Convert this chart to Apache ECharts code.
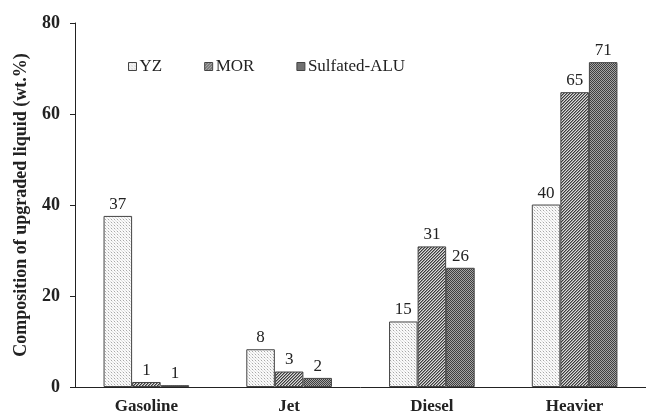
<!DOCTYPE html>
<html><head><meta charset="utf-8">
<script src="https://cdn.jsdelivr.net/npm/echarts@6/dist/echarts.min.js"></script>
<style>html,body{margin:0;padding:0;background:#fff}#c{width:646px;height:418px}</style>
</head><body><div id="c"></div>
<script>
const categories = ['Gasoline', 'Jet', 'Diesel', 'Heavier'];
const seriesNames = ['YZ', 'MOR', 'Sulfated-ALU'];
const yzValues = [37.6, 8.3, 14.4, 40.1];
const morValues = [1.1, 3.4, 30.9, 64.8];
const aluValues = [0.4, 2.0, 26.2, 71.4];
const yzLabels = ['37', '8', '15', '40'];
const morLabels = ['1', '3', '31', '65'];
const aluLabels = ['1', '2', '26', '71'];
const yTicks = [0, 20, 40, 60, 80];

function pattern(kind) {
  const c = document.createElement('canvas');
  const ctx = c.getContext('2d');
  if (kind === 'dots') {
    c.width = 3; c.height = 3;
    ctx.fillStyle = '#fafafa'; ctx.fillRect(0, 0, 3, 3);
    ctx.fillStyle = '#a8a8a8';
    ctx.fillRect(0, 0, 1, 1);
    ctx.fillStyle = '#dedede';
    ctx.fillRect(1, 1, 1, 1); ctx.fillRect(2, 2, 1, 1);
  } else if (kind === 'diag') {
    c.width = 3; c.height = 3;
    ctx.fillStyle = '#dcdcdc'; ctx.fillRect(0, 0, 3, 3);
    ctx.fillStyle = '#3c3c3c';
    for (let i = 0; i < 3; i++) { ctx.fillRect(2 - i, i, 1, 1); }
    ctx.fillStyle = '#8c8c8c';
    for (let i = 0; i < 3; i++) { ctx.fillRect((3 - i) % 3, i, 1, 1); }
  } else {
    c.width = 2; c.height = 2;
    ctx.fillStyle = '#a4a4a4'; ctx.fillRect(0, 0, 2, 2);
    ctx.fillStyle = '#3e3e3e';
    ctx.fillRect(0, 0, 1, 1); ctx.fillRect(1, 1, 1, 1);
  }
  return { image: c, repeat: 'repeat' };
}

const fills = [pattern('dots'), pattern('diag'), pattern('check')];
const valueSets = [yzValues, morValues, aluValues];
const labelSets = [yzLabels, morLabels, aluLabels];

const chart = echarts.init(document.getElementById('c'), null, { renderer: 'canvas' });
const font = 'Liberation Serif';
chart.setOption({
  animation: false,
  backgroundColor: '#fff',
  textStyle: { fontFamily: font },
  grid: { left: 75, top: 23, bottom: 31, right: -7, containLabel: false },
  legend: {
    left: 123, top: 53,
    itemWidth: 8, itemHeight: 8, itemGap: 42,
    textStyle: { fontFamily: font, fontSize: 17, color: '#222', padding: [0, 0, 0, -2] },
    data: seriesNames.map((n, i) => ({ name: n, icon: 'rect', itemStyle: { color: fills[i], borderColor: '#444', borderWidth: 1 } }))
  },
  xAxis: {
    type: 'category', data: categories,
    axisTick: { show: false },
    axisLine: { lineStyle: { color: '#222', width: 1 } },
    axisLabel: { fontFamily: font, fontWeight: 'bold', fontSize: 17, color: '#222', margin: 11 }
  },
  yAxis: {
    type: 'value', min: yTicks[0], max: yTicks[yTicks.length - 1], interval: 20,
    name: 'Composition of upgraded liquid (wt.%)',
    nameLocation: 'middle', nameGap: 45, nameRotate: 90,
    nameTextStyle: { fontFamily: font, fontWeight: 'bold', fontSize: 18, color: '#222' },
    splitLine: { show: false },
    axisLine: { show: true, lineStyle: { color: '#222', width: 1 } },
    axisTick: { show: true, length: 5, lineStyle: { color: '#222' } },
    axisLabel: { fontFamily: font, fontWeight: 'bold', fontSize: 18, color: '#222', margin: 15 }
  },
  series: seriesNames.map((n, i) => ({
    name: n, type: 'bar',
    barGap: '0%', barCategoryGap: '40%',
    data: valueSets[i],
    itemStyle: { color: fills[i], borderColor: '#444', borderWidth: 1 },
    label: {
      show: true, position: 'top', distance: 3,
      fontFamily: font, fontSize: 17, color: '#222',
      formatter: p => labelSets[i][p.dataIndex]
    }
  }))
});
</script></body></html>
